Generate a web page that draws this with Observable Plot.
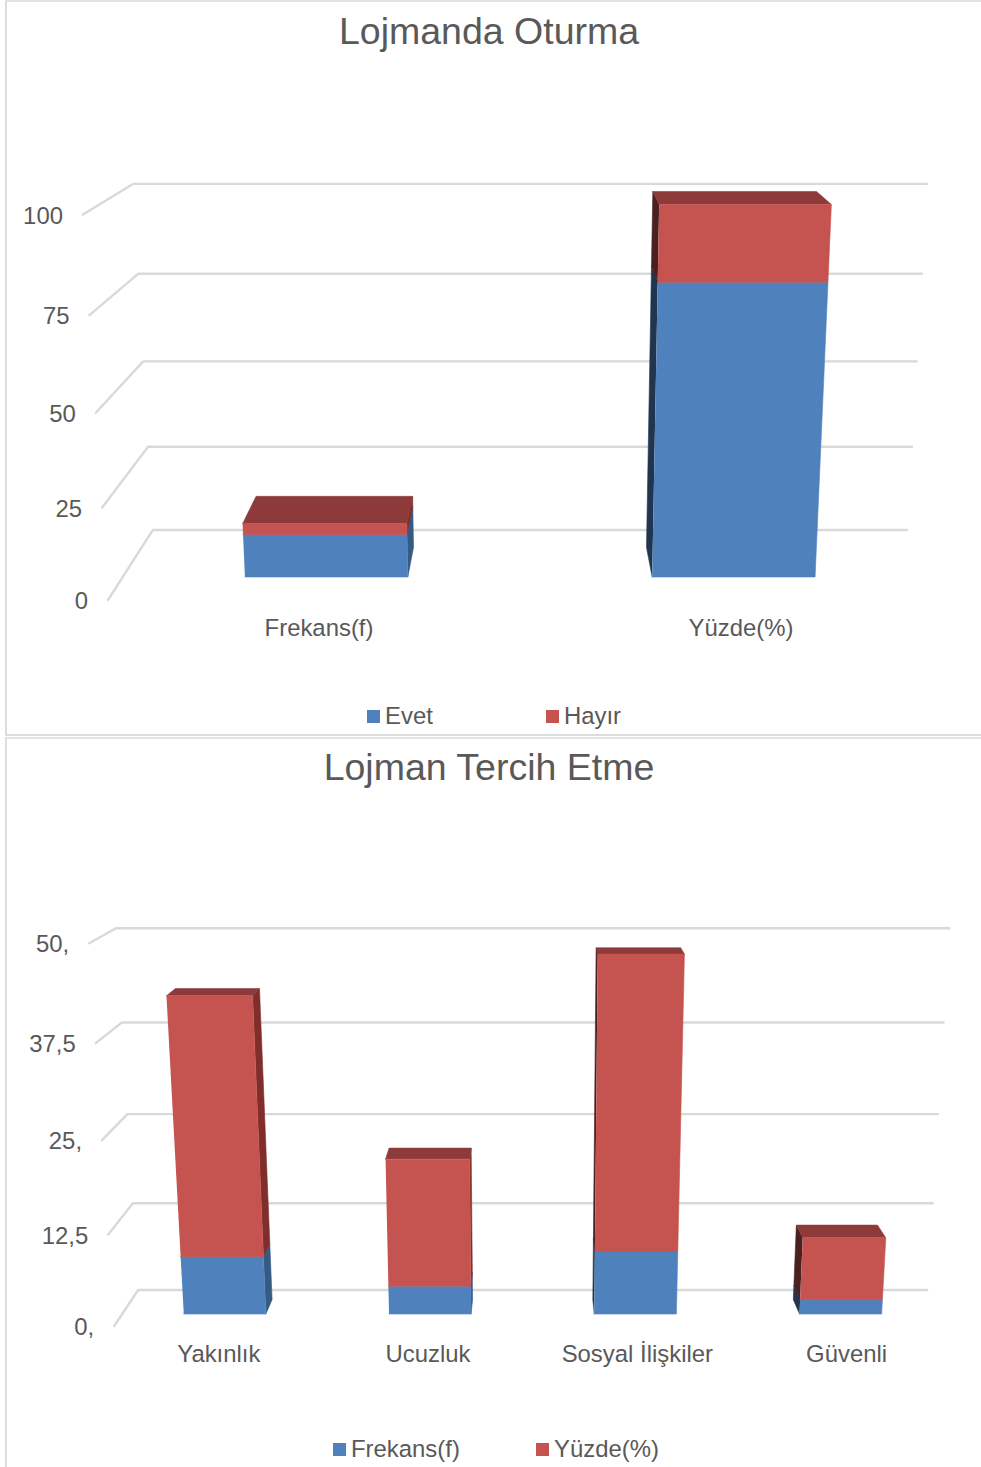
<!DOCTYPE html>
<html><head><meta charset="utf-8">
<script src="https://cdn.jsdelivr.net/npm/d3@7"></script>
<script src="https://cdn.jsdelivr.net/npm/@observablehq/plot@0.6"></script>
<style>
html,body{margin:0;padding:0;background:#fff}
body{width:981px;height:1467px;position:relative;overflow:hidden;font-family:"Liberation Sans",Arial,sans-serif;color:#595959}
.chart{position:absolute;left:0;width:981px;box-sizing:border-box}
.frame{position:absolute;left:5px;right:0;top:0;bottom:0;border-left:2px solid #DDDDDD;border-top:2px solid #E3E3E3;box-sizing:border-box}
.frame.closed{border-bottom:2px solid #DDDDDD}
.title{position:absolute;left:-1.5px;width:981px;text-align:center;font-size:37.5px;line-height:44px;white-space:nowrap}
.plot{position:absolute;left:0}
.legend{position:absolute;left:0;width:981px;height:28px;font-size:23.9px;line-height:28px}
.legend span{position:absolute;white-space:nowrap}
.legend i{position:absolute;width:13px;height:13px;top:8px}
</style></head><body>
<div id="root"></div>
<script>
// ---- Chart 1 data
const categories1 = ["Frekans(f)", "Yüzde(%)"];
const evet = [12, 80];
const hayir = [3, 20];
const ticks1 = [0, 25, 50, 75, 100];
const tickLabels1 = ["0", "25", "50", "75", "100"];
const seriesNames1 = ["Evet", "Hayır"];
const title1 = "Lojmanda Oturma";

// ---- Chart 2 data
const categories2 = ["Yakınlık", "Ucuzluk", "Sosyal İlişkiler", "Güvenli"];
const frekans = [8, 3.9, 8.8, 2];
const yuzde = [34.7, 17.4, 39.2, 8.6];
const ticks2 = [0, 12.5, 25, 37.5, 50];
const tickLabels2 = ["0,", "12,5", "25,", "37,5", "50,"];
const seriesNames2 = ["Frekans(f)", "Yüzde(%)"];
const title2 = "Lojman Tercih Etme";

const palette = {
  blue: "#4F81BD", red: "#C5534F", top: "#8E3A3A",
  blueSideR: "#355A84", redSideR: "#7F2E2C",
  blueSideL: "#1F3550", redSideL: "#4B2020",
  grid: "#D9D9D9", text: "#595959"
};

// Camera of each chart's 3D box: u across (-1..1), v up (0..1), d into the page (0..1).
function camera({cx, halfW, q, r, y0, yv, yd, vMax}) {
  return (u, value, d) => {
    const v = value / vMax;
    const w = 1 + q * v + r * d;
    return {x: cx + halfW * u / w, y: (y0 + yv * v + yd * d) / w};
  };
}

function draw(cfg) {
  const {categories, series, ticks, tickLabels, names, title, project, barWidth, front, back,
         top, bottom, frameTop, frameHeight, titleTop, legendTop, legendX, closed} = cfg;
  const n = categories.length;
  const centre = i => -1 + (2 * i + 1) / n;

  const faces = [];
  const face = (id, color, pts) => pts.forEach(p => {
    const q = project(p[0], p[1], p[2]);
    faces.push({id, color, x: q.x, y: q.y});
  });
  categories.forEach((c, i) => {
    const uc = centre(i), u0 = uc - barWidth / 2, u1 = uc + barWidth / 2;
    const a = series[0][i], b = a + series[1][i];
    const sideU = uc < 0 ? u1 : u0;
    const sideBlue = uc < 0 ? palette.blueSideR : palette.blueSideL;
    const sideRed = uc < 0 ? palette.redSideR : palette.redSideL;
    face(`s1-${i}`, sideBlue, [[sideU,0,front],[sideU,0,back],[sideU,a,back],[sideU,a,front]]);
    face(`s2-${i}`, sideRed, [[sideU,a,front],[sideU,a,back],[sideU,b,back],[sideU,b,front]]);
    face(`t-${i}`, palette.top, [[u0,b,front],[u0,b,back],[u1,b,back],[u1,b,front]]);
    face(`f1-${i}`, palette.blue, [[u0,0,front],[u1,0,front],[u1,a,front],[u0,a,front]]);
    face(`f2-${i}`, palette.red, [[u0,a,front],[u1,a,front],[u1,b,front],[u0,b,front]]);
  });

  const grid = ticks.flatMap((t, i) => [[-1,t,0],[-1,t,1],[1,t,1]].map(p => ({tick: i, ...project(...p)})));
  const tickText = ticks.map((t, i) => ({label: tickLabels[i], ...project(-1, t, 0)}));
  const catText = categories.map((c, i) => ({label: c, ...project(centre(i), 0, 0)}));
  const font = {fontFamily: '"Liberation Sans", Arial, sans-serif', fontSize: 23.9, fill: palette.text};

  const plot = Plot.plot({
    width: 981, height: bottom - top,
    marginTop: 0, marginRight: 0, marginBottom: 0, marginLeft: 0,
    x: {domain: [0.5, 981.5], range: [0, 981], axis: null},
    y: {domain: [top + 0.5, bottom + 0.5], range: [0, bottom - top], axis: null},
    color: {type: "identity"},
    style: {background: "transparent", overflow: "visible"},
    marks: [
      Plot.line(grid, {x: "x", y: "y", z: "tick", stroke: palette.grid, strokeWidth: 2.4}),
      Plot.line(faces, {x: "x", y: "y", z: "id", fill: "color", stroke: "color", strokeWidth: 0.6}),
      Plot.text(tickText, {x: "x", y: "y", text: "label", textAnchor: "end", dx: -20, dy: 1.5, ...font}),
      Plot.text(catText, {x: "x", y: "y", text: "label", dy: 28.5, ...font})
    ]
  });

  const root = document.getElementById("root");
  const box = document.createElement("div");
  box.className = "chart";
  box.style.top = frameTop + "px";
  box.style.height = frameHeight + "px";
  box.innerHTML = `<div class="frame${closed ? " closed" : ""}"></div>`;
  const t = document.createElement("div");
  t.className = "title"; t.textContent = title; t.style.top = (titleTop - frameTop) + "px";
  box.appendChild(t);
  const holder = document.createElement("div");
  holder.className = "plot"; holder.style.top = (top - frameTop) + "px";
  holder.appendChild(plot);
  box.appendChild(holder);
  const leg = document.createElement("div");
  leg.className = "legend"; leg.style.top = (legendTop - frameTop) + "px";
  names.forEach((name, i) => {
    const sw = document.createElement("i");
    sw.style.left = legendX[i] + "px";
    sw.style.background = i === 0 ? palette.blue : palette.red;
    const s = document.createElement("span");
    s.style.left = (legendX[i] + 18) + "px";
    s.textContent = name;
    leg.append(sw, s);
  });
  box.appendChild(leg);
  root.appendChild(box);
}

draw({
  categories: categories1, series: [evet, hayir], ticks: ticks1, tickLabels: tickLabels1,
  names: seriesNames1, title: title1, barWidth: 0.4, front: 0.304, back: 0.73,
  project: camera({cx: 530, halfW: 422, q: -0.056, r: 0.119, y0: 600, yv: -397.5, yd: -7, vMax: 100}),
  top: 60, bottom: 700, frameTop: 0, frameHeight: 736, titleTop: 9, legendTop: 702, legendX: [367, 546], closed: true
});
draw({
  categories: categories2, series: [frekans, yuzde], ticks: ticks2, tickLabels: tickLabels2,
  names: seriesNames2, title: title2, barWidth: 0.2, front: 0.32, back: 0.72,
  project: camera({cx: 532.7, halfW: 418.5, q: -0.0564, r: 0.0608, y0: 1326, yv: -436, yd: 42.4, vMax: 50}),
  top: 800, bottom: 1420, frameTop: 737, frameHeight: 730, titleTop: 745, legendTop: 1435, legendX: [333, 536]
});
</script>
</body></html>
